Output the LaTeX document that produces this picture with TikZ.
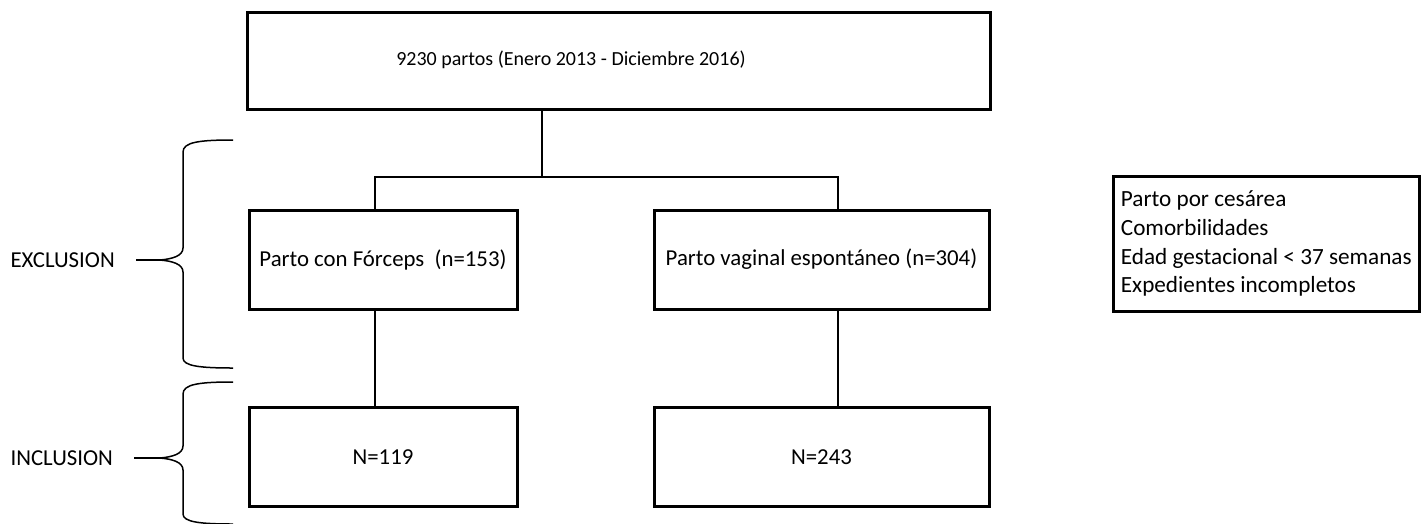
\documentclass[tikz,border=0pt]{standalone}
\usepackage{fontspec}
\setmainfont{Carlito}
\usepackage{tikz}

\begin{document}
\begin{tikzpicture}[x=1pt, y=-1pt, font=\fontsize{22.8}{27}\selectfont,
  box/.style={draw, line width=3pt, minimum width=268pt, minimum height=99pt, inner sep=0pt},
  link/.style={line width=1.3pt},
  brace/.style={line width=1.5pt}]
\useasboundingbox (0,0) rectangle (1427,523);

\node[box, minimum width=743pt, minimum height=97pt] (total) at (618.5, 60.5) {};
\node[font=\fontsize{20}{24}\selectfont] (totaltxt) at (571, 60) {9230 partos (Enero 2013 - Diciembre 2016)};

\node[box] (forc) at (383, 259.5) {Parto con Fórceps\ \ (n=153)};
\node[box, minimum width=335pt] (vag) at (821.5, 259.5) {Parto vaginal espontáneo (n=304)};
\node[box] (forcN) at (383, 457) {N=119};
\node[box, minimum width=335pt] (vagN) at (821.5, 457) {N=243};

\node[draw, line width=2.6pt, anchor=north west, minimum width=306pt, minimum height=135pt,
  align=left, inner xsep=6pt, font=\fontsize{23.2}{28.7}\selectfont] (crit) at (1112, 175)
  {Parto por cesárea\\Comorbilidades\\Edad gestacional < 37 semanas\\Expedientes incompletos};

\node[anchor=west] (excl) at (7, 260) {EXCLUSION};
\node[anchor=west] (incl) at (7, 458) {INCLUSION};

% braces
\coordinate (exTip) at (160, 260);
\coordinate (inTip) at (160, 458);
\draw[brace] (233,140) .. controls (200,140) and (183,142) .. (183,152) -- (183,248)
  .. controls (183,256) and (172,259) .. (exTip) .. controls (172,261) and (183,264) .. (183,272)
  -- (183,358) .. controls (183,366) and (200,368) .. (233,368);
\draw[brace] (233,382) .. controls (200,382) and (183,384) .. (183,394) -- (183,446)
  .. controls (183,454) and (172,457) .. (inTip) .. controls (172,459) and (183,462) .. (183,470)
  -- (183,514) .. controls (183,522) and (200,524) .. (233,524);
\draw[brace, shorten <=18pt] (excl.east) -- (exTip);
\draw[brace, shorten <=18pt] (incl.east) -- (inTip);

% connectors
\coordinate (jM) at (542, 177);
\coordinate (jL) at (375, 177);
\coordinate (jR) at (838, 177);
\draw[link] (total.south -| jM) -- (jM);
\draw[link] (forc.north -| jL) -- (jL) -- (jR) -- (vag.north -| jR);
\draw[link] (forc.south -| jL) -- (forcN.north -| jL);
\draw[link] (vag.south -| jR) -- (vagN.north -| jR);

\end{tikzpicture}
\end{document}
